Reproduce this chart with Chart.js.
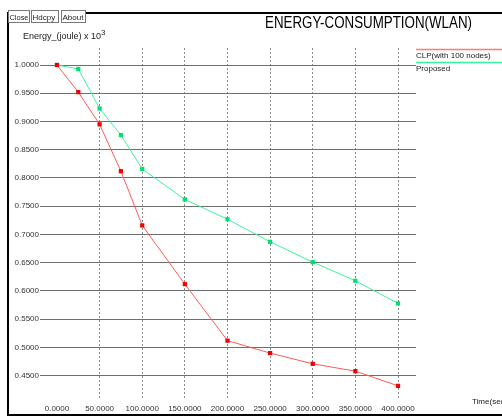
<!DOCTYPE html>
<html lang="en">
<head>
    <meta charset="UTF-8">
    <title>Energy Consumption (WLAN)</title>
    <script src="https://cdn.jsdelivr.net/npm/chart.js"></script>
    <style>
        html, body { margin: 0; padding: 0; background: #fff; }
        #wrap { position: relative; width: 502px; height: 418px; }
    </style>
</head>
<body>
    <div id="wrap"><canvas id="energyChart"></canvas></div>

    <script>
        // time values (sec)
        const times = [0, 25, 50, 75, 100, 150, 200, 250, 300, 350, 400];
        // energy (joule x 10^3)
        const clpValues = [1.000, 0.952, 0.895, 0.812, 0.716, 0.612, 0.512, 0.490, 0.471, 0.458, 0.432];
        const proposedValues = [1.000, 0.993, 0.923, 0.876, 0.816, 0.762, 0.727, 0.687, 0.651, 0.618, 0.578];
        const xTicks = [0, 50, 100, 150, 200, 250, 300, 350, 400];
        const yTicks = [0.45, 0.50, 0.55, 0.60, 0.65, 0.70, 0.75, 0.80, 0.85, 0.90, 0.95, 1.00];
        const seriesNames = ['CLP(with 100 nodes)', 'Proposed'];

        const FONT = '"Liberation Sans", Arial, sans-serif';

        const toPoints = (vals) => times.map((t, i) => ({ x: t, y: vals[i] }));

        // fit a string into a given width
        function fitText(ctx, text, x, y, w) {
            const m = ctx.measureText(text).width;
            ctx.save();
            ctx.translate(x, y);
            ctx.scale(Math.min(1, w / m), 1);
            ctx.fillText(text, 0, 0);
            ctx.restore();
        }

        // frame, buttons, title, axis captions and legend
        const decorPlugin = {
            id: 'decor',
            afterDraw(chart) {
                const ctx = chart.ctx;
                ctx.save();

                // window frame
                ctx.fillStyle = '#000';
                ctx.fillRect(7, 12, 2, 404);
                ctx.fillRect(86, 12, 416, 2);
                ctx.fillRect(7, 414, 495, 2);

                // buttons
                const buttons = [['Close', 8, 22], ['Hdcpy', 31, 28], ['About', 61, 25]];
                ctx.font = '8px ' + FONT;
                ctx.textBaseline = 'alphabetic';
                ctx.textAlign = 'left';
                buttons.forEach(([label, bx, bw]) => {
                    ctx.fillStyle = '#fff';
                    ctx.fillRect(bx, 10, bw, 13);
                    ctx.strokeStyle = '#777';
                    ctx.lineWidth = 1;
                    ctx.strokeRect(bx + 0.5, 10.5, bw - 1, 12);
                    ctx.fillStyle = '#222';
                    fitText(ctx, label, bx + 1.5, 20, bw - 3);
                });

                // title
                ctx.fillStyle = '#000';
                ctx.font = '16px ' + FONT;
                const title = 'ENERGY-CONSUMPTION(WLAN)';
                const tw = ctx.measureText(title).width;
                ctx.save();
                ctx.translate(265, 28);
                ctx.scale(207 / tw, 1.05);
                ctx.fillText(title, 0, 0);
                ctx.restore();

                // y caption
                ctx.fillStyle = '#222';
                ctx.font = '9px ' + FONT;
                ctx.fillText('Energy_(joule) x 10', 23, 39);
                const cw = ctx.measureText('Energy_(joule) x 10').width;
                ctx.font = '8px ' + FONT;
                ctx.fillText('3', 23 + cw, 35);

                // x caption
                ctx.font = '8px ' + FONT;
                ctx.fillText('Time(sec)', 472, 404);

                // legend
                const colors = ['#ff7a7a', '#3cf39a'];
                const lineY = [49.5, 62.5];
                ctx.font = '8px ' + FONT;
                seriesNames.forEach((name, i) => {
                    ctx.strokeStyle = colors[i];
                    ctx.lineWidth = 1.5;
                    ctx.beginPath();
                    ctx.moveTo(416, lineY[i]);
                    ctx.lineTo(502, lineY[i]);
                    ctx.stroke();
                    ctx.fillStyle = '#222';
                    ctx.fillText(name, 416, lineY[i] + 8);
                });

                ctx.restore();
            }
        };

        new Chart(document.getElementById('energyChart'), {
            type: 'line',
            data: {
                datasets: [
                    {
                        label: seriesNames[0],
                        data: toPoints(clpValues),
                        borderColor: '#ff5a5a',
                        backgroundColor: '#f00000',
                        borderWidth: 1,
                        pointStyle: 'rect',
                        pointRadius: 3,
                        pointBorderWidth: 0,
                        tension: 0
                    },
                    {
                        label: seriesNames[1],
                        data: toPoints(proposedValues),
                        borderColor: '#3cf39a',
                        backgroundColor: '#00e070',
                        borderWidth: 1,
                        pointStyle: 'rect',
                        pointRadius: 3,
                        pointBorderWidth: 0,
                        tension: 0
                    }
                ]
            },
            options: {
                responsive: true,
                maintainAspectRatio: false,
                animation: false,
                layout: { padding: { left: 8, top: 48, right: 86, bottom: 0 } },
                plugins: {
                    legend: { display: false },
                    tooltip: { enabled: false }
                },
                scales: {
                    x: {
                        type: 'linear',
                        min: -19.9,
                        max: 421.1,
                        afterBuildTicks: (s) => { s.ticks = xTicks.map(v => ({ value: v })); },
                        afterFit: (s) => { s.height = 20; },
                        border: { display: false, dash: [2, 2] },
                        grid: {
                            drawTicks: false,
                            color: (c) => c.tick && c.tick.value === 0 ? 'rgba(0,0,0,0)' : '#8a8a8a'
                        },
                        ticks: {
                            padding: 6,
                            color: '#333',
                            font: { family: FONT, size: 8 },
                            maxRotation: 0,
                            autoSkip: false,
                            callback: (v) => Number(v).toFixed(4)
                        }
                    },
                    y: {
                        type: 'linear',
                        min: 0.4105,
                        max: 1.0301,
                        afterBuildTicks: (s) => { s.ticks = yTicks.map(v => ({ value: v })); },
                        afterFit: (s) => { s.width = 32; },
                        border: { display: false },
                        grid: { drawTicks: false, color: '#6e6e6e' },
                        ticks: {
                            padding: 1,
                            color: '#333',
                            font: { family: FONT, size: 8 },
                            autoSkip: false,
                            callback: (v) => Number(v).toFixed(4)
                        }
                    }
                }
            },
            plugins: [decorPlugin]
        });
    </script>
</body>
</html>
